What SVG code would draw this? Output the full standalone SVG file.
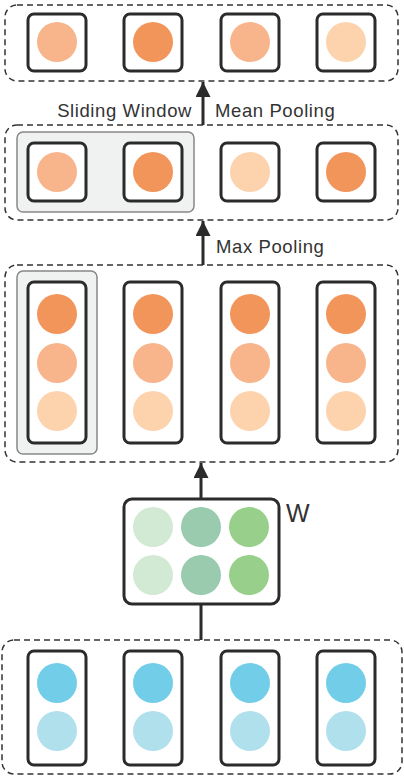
<svg xmlns="http://www.w3.org/2000/svg" width="404" height="776" viewBox="0 0 404 776">
<style>
.grp{fill:none;stroke:#333;stroke-width:1.5;stroke-dasharray:6 4}
.win{fill:#f0f1f1;stroke:#888;stroke-width:1.5}
.node{fill:#fff;stroke:#2b2b2b;stroke-width:3}
.o1{fill:#f2955a}.o2{fill:#f8b58c}.o3{fill:#fdd3ad}
.b1{fill:#72cde9}.b2{fill:#b1e0ed}
.g1{fill:#d2e9d3}.g2{fill:#9acbae}.g3{fill:#98cf8a}
.lbl{font-family:"Liberation Sans",Arial,sans-serif;font-size:18.5px;letter-spacing:0.6px;fill:#333}
.conn{stroke:#2b2b2b;stroke-width:3;fill:none}
</style>
<defs>
<marker id="ah" viewBox="0 0 10 10" refX="10" refY="5" markerWidth="5" markerHeight="5" orient="auto" markerUnits="strokeWidth">
<path d="M0,0 L10,5 L0,10 z" fill="#2b2b2b"/>
</marker>
</defs>

<g id="layer-output">
<rect class="grp" x="5" y="5" width="393" height="76" rx="12"/>
<g id="out1"><rect class="node" x="28" y="14" width="58" height="57" rx="6"/><circle class="o2" cx="57" cy="42" r="20"/></g>
<g id="out2"><rect class="node" x="124" y="14" width="58" height="57" rx="6"/><circle class="o1" cx="153" cy="42" r="20"/></g>
<g id="out3"><rect class="node" x="221" y="14" width="58" height="57" rx="6"/><circle class="o2" cx="250" cy="42" r="20"/></g>
<g id="out4"><rect class="node" x="317" y="14" width="58" height="57" rx="6"/><circle class="o3" cx="346" cy="42" r="20"/></g>
</g>

<g id="layer-maxpool">
<rect class="grp" x="5" y="125" width="393" height="95" rx="12"/>
<rect class="win" x="17" y="132" width="177" height="80" rx="6"/>
<g id="mp1"><rect class="node" x="28" y="143" width="58" height="58" rx="6"/><circle class="o2" cx="57" cy="172" r="20"/></g>
<g id="mp2"><rect class="node" x="124" y="143" width="58" height="58" rx="6"/><circle class="o1" cx="153" cy="172" r="20"/></g>
<g id="mp3"><rect class="node" x="221" y="143" width="58" height="58" rx="6"/><circle class="o3" cx="250" cy="172" r="20"/></g>
<g id="mp4"><rect class="node" x="317" y="143" width="58" height="58" rx="6"/><circle class="o1" cx="346" cy="172" r="20"/></g>
</g>

<g id="layer-hidden">
<rect class="grp" x="5" y="265" width="393" height="197" rx="12"/>
<rect class="win" x="17" y="271" width="80" height="183" rx="6"/>
<g id="h1"><rect class="node" x="28" y="282" width="58" height="161" rx="6"/><circle class="o1" cx="57" cy="314" r="20"/><circle class="o2" cx="57" cy="363" r="20"/><circle class="o3" cx="57" cy="411" r="20"/></g>
<g id="h2"><rect class="node" x="124" y="282" width="58" height="161" rx="6"/><circle class="o1" cx="153" cy="314" r="20"/><circle class="o2" cx="153" cy="363" r="20"/><circle class="o3" cx="153" cy="411" r="20"/></g>
<g id="h3"><rect class="node" x="221" y="282" width="58" height="161" rx="6"/><circle class="o1" cx="250" cy="314" r="20"/><circle class="o2" cx="250" cy="363" r="20"/><circle class="o3" cx="250" cy="411" r="20"/></g>
<g id="h4"><rect class="node" x="317" y="282" width="58" height="161" rx="6"/><circle class="o1" cx="346" cy="314" r="20"/><circle class="o2" cx="346" cy="363" r="20"/><circle class="o3" cx="346" cy="411" r="20"/></g>
</g>

<g id="weights">
<rect class="node" x="124" y="499" width="155" height="105" rx="8"/>
<circle class="g1" cx="153" cy="527" r="20"/><circle class="g2" cx="201" cy="527" r="20"/><circle class="g3" cx="249" cy="527" r="20"/>
<circle class="g1" cx="153" cy="575" r="20"/><circle class="g2" cx="201" cy="575" r="20"/><circle class="g3" cx="249" cy="575" r="20"/>
<text x="286" y="522" style="font-family:'Liberation Sans',Arial,sans-serif;font-size:25px;fill:#333">W</text>
</g>

<g id="layer-input">
<rect class="grp" x="2" y="640" width="400" height="134" rx="12"/>
<g id="in1"><rect class="node" x="28" y="651" width="58" height="114" rx="6"/><circle class="b1" cx="57" cy="683" r="20"/><circle class="b2" cx="57" cy="731" r="20"/></g>
<g id="in2"><rect class="node" x="124" y="651" width="58" height="114" rx="6"/><circle class="b1" cx="153" cy="683" r="20"/><circle class="b2" cx="153" cy="731" r="20"/></g>
<g id="in3"><rect class="node" x="221" y="651" width="58" height="114" rx="6"/><circle class="b1" cx="250" cy="683" r="20"/><circle class="b2" cx="250" cy="731" r="20"/></g>
<g id="in4"><rect class="node" x="317" y="651" width="58" height="114" rx="6"/><circle class="b1" cx="346" cy="683" r="20"/><circle class="b2" cx="346" cy="731" r="20"/></g>
</g>

<g id="connectors">
<line class="conn" x1="203" y1="125" x2="203" y2="82" marker-end="url(#ah)"/>
<line class="conn" x1="203" y1="265" x2="203" y2="221" marker-end="url(#ah)"/>
<line class="conn" x1="201" y1="499" x2="201" y2="463" marker-end="url(#ah)"/>
<line class="conn" x1="201" y1="640" x2="201" y2="604"/>
</g>

<g id="labels">
<text class="lbl" x="192" y="117" text-anchor="end">Sliding Window</text>
<text class="lbl" x="215" y="117">Mean Pooling</text>
<text class="lbl" x="216" y="253">Max Pooling</text>
</g>
</svg>
